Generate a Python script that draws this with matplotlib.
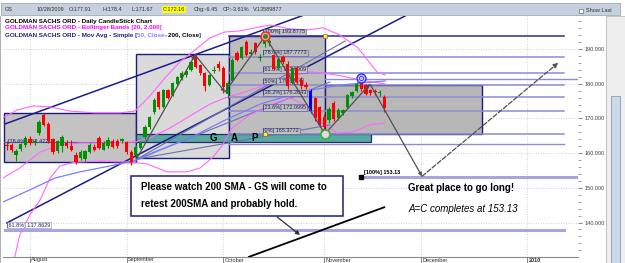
import numpy as np
import matplotlib.pyplot as plt
from matplotlib.patches import Rectangle
from matplotlib.ticker import MultipleLocator
from matplotlib.transforms import offset_copy

plt.rcParams['font.family'] = ['Liberation Sans', 'DejaVu Sans']

W, H = 625, 263

# x = trading-day index, 0 = Mon 3 Aug 2009 (future days counted as weekdays)
day0 = -5
opens = [162.2, 162.3, 159.5, 161.2, 162.2, 164.2, 162.8, 165.8, 171.0, 168.5,
         164.0, 160.6, 162.0, 163.0, 162.0, 159.5, 158.6, 158.3, 160.3, 161.8,
         164.3, 161.0, 162.0, 163.5, 163.6, 163.4, 163.2, 160.3, 159.4, 161.6,
         164.6, 167.5, 171.8, 177.6, 173.4, 178.2, 176.8, 179.8, 181.6, 182.4,
         184.0, 188.0, 185.4, 183.0, 179.6, 183.6, 185.6, 184.6, 177.0, 180.8,
         188.8, 187.4, 192.0, 188.6, 191.6, 187.4, 191.4, 191.6, 188.2, 184.6,
         187.6, 185.8, 180.2, 184.4, 181.2, 179.6, 177.91, 175.8, 173.2, 170.4,
         169.4, 174.4, 170.0, 171.6, 173.4, 176.4, 178.0, 180.4, 179.6, 178.2,
         177.8, 177.2, 176.2]
highs = [163.4, 162.8, 161.2, 163.0, 164.9, 164.8, 164.0, 169.6, 171.6, 169.0,
         164.4, 163.8, 165.2, 163.8, 163.8, 160.2, 160.8, 161.0, 162.8, 162.6,
         164.8, 163.4, 164.6, 164.0, 164.2, 164.4, 163.6, 160.8, 162.4, 163.6,
         168.0, 170.8, 175.8, 178.0, 178.6, 178.6, 180.6, 182.2, 183.6, 184.0,
         186.6, 188.6, 185.8, 183.4, 182.8, 185.2, 186.4, 185.0, 180.8, 187.3,
         189.4, 191.0, 192.6, 190.0, 192.0, 188.6, 193.9, 192.8, 188.6, 187.6,
         188.2, 186.4, 184.8, 185.0, 181.8, 180.4, 178.4, 176.2, 173.6, 171.2,
         173.4, 175.0, 173.0, 172.8, 177.0, 178.0, 180.4, 181.6, 180.0, 178.6,
         178.4, 178.2, 176.6]
lows = [161.0, 160.2, 157.6, 160.6, 161.8, 162.2, 162.3, 165.3, 167.8, 162.8,
        159.8, 160.0, 160.2, 161.4, 160.6, 156.8, 158.0, 157.8, 160.0, 160.6,
        161.2, 160.8, 161.6, 161.5, 161.6, 163.0, 159.8, 156.6, 158.8, 161.2,
        164.2, 167.0, 171.4, 172.8, 173.0, 175.6, 176.4, 179.4, 181.2, 182.0,
        183.6, 184.4, 182.6, 177.8, 179.2, 183.2, 183.6, 177.4, 175.8, 180.4,
        186.4, 187.0, 188.0, 188.2, 188.6, 186.4, 190.6, 190.8, 183.8, 184.2,
        185.8, 178.6, 179.8, 179.8, 178.6, 178.4, 171.67, 169.2, 167.4, 165.4,
        168.8, 169.2, 169.4, 171.0, 173.0, 176.0, 177.6, 178.0, 176.6, 176.8,
        176.6, 176.4, 171.8]
closes = [161.9, 160.8, 160.6, 162.6, 164.4, 162.8, 163.6, 168.9, 168.2, 163.4,
          160.4, 163.4, 164.6, 161.9, 161.0, 157.5, 160.4, 160.6, 162.4, 160.9,
          161.6, 162.9, 163.8, 161.8, 162.0, 164.0, 160.3, 157.4, 161.8, 163.2,
          167.5, 170.4, 175.3, 173.3, 178.2, 176.0, 180.2, 181.8, 183.2, 183.6,
          186.2, 184.8, 183.0, 179.4, 182.5, 184.0, 184.4, 179.0, 180.2, 186.8,
          186.8, 190.6, 188.3, 189.2, 189.2, 187.8, 192.6, 192.2, 184.2, 187.2,
          186.2, 179.4, 184.4, 180.4, 179.2, 178.9, 172.16, 170.0, 168.0, 167.6,
          172.6, 169.8, 172.4, 172.4, 176.6, 177.6, 179.8, 178.6, 177.0, 177.4,
          177.5, 177.6, 173.0]
hover_day = 61  # 10/28/2009, the bar shown in the header

month_ticks = [0, 21, 42, 64, 85, 108]
month_labels = ['August', 'September', 'October', 'November', 'December', '2010']
price_ticks = [140, 150, 160, 170, 180, 190]

# Bollinger bands (20, 2) and moving averages
bb_up_x = [-5.9, -2.8, 0.7, 4.4, 8.7, 14.1, 19.6, 22.8, 26.1, 29.3, 32.6, 35.9,
           39.1, 42.4, 45.7, 48.9, 52.2, 56.5, 60.4, 63.7, 67.4, 71.3, 75.4, 77.2]
bb_up_y = [170.1, 172.4, 173.6, 173.3, 172.1, 171.6, 171.6, 172.1, 176.5, 181.6,
           186.3, 189.7, 193.2, 194.9, 195.2, 196.1, 196.9, 195.8, 195.5, 196.1,
           194.0, 190.3, 183.4, 182.5]
bb_mid_x = [-5.9, -2.2, 2.2, 6.5, 10.9, 17.4, 22.8, 26.1, 30.4, 34.8, 39.1, 42.4,
            46.7, 51.1, 56.5, 60.9, 66.7, 71.7, 77.2]
bb_mid_y = [152.8, 155.7, 160.3, 162.3, 162.9, 162.9, 163.2, 164.4, 167.2, 170.7,
            174.1, 175.9, 177.6, 179.6, 182.2, 183.4, 182.5, 181.1, 179.9]
bb_low_x = [-3.3, -2.2, 0.0, 2.2, 4.4, 6.5, 9.8, 15.2, 21.7, 25.4, 29.8, 34.1,
            37.0, 39.8, 41.7, 43.9, 47.8, 52.2, 56.5, 59.8, 63.0, 66.7, 70.2, 73.9, 77.2]
bb_low_y = [130.1, 136.4, 142.2, 146.5, 152.8, 156.3, 157.4, 157.7, 157.4, 156.9,
            154.6, 154.6, 155.7, 158.9, 162.0, 167.2, 171.0, 173.9, 175.9, 173.9,
            169.0, 165.8, 166.1, 168.1, 168.7]
sma50_x = [-5.9, 0.0, 5.4, 10.9, 17.4, 23.3, 28.3, 34.8, 42.4, 50.0, 58.7, 67.4, 77.2]
sma50_y = [145.9, 149.4, 152.8, 154.6, 156.3, 158.0, 160.9, 164.4, 169.5, 174.1,
           177.6, 179.6, 180.8]
sma200_x = [47.6, 55.0, 62.0, 70.0, 77.0]
sma200_y = [130.1, 133.7, 137.1, 141.0, 144.4]

# Fibonacci retracement of the Oct swing
fib_names = ['100%', '78.6%', '61.8%', '50%', '38.2%', '23.6%', '0%']
fib_levels = [193.8775, 187.7773, 182.9909, 179.6274, 176.2643, 172.0995, 165.3772]

# drawn boxes: (left day, right day, low, high)
box_left = [-5.6, 23.0, 43.3, 64.1]
box_right = [23.0, 43.3, 64.1, 98.3]
box_low = [157.4, 158.6, 165.5, 165.5]
box_high = [171.6, 188.6, 193.75, 179.6]
box_fill = ['#c3c3c3', '#dadada', '#bdbdbd', '#b7b7b7']

# ABCD swing path and projection
swing_x = [23.3, 35.9, 42.4, 51.1, 64.1, 73.9, 85.2]
swing_y = [158.6, 188.3, 177.6, 193.7, 165.5, 179.9, 153.3]
target_x, target_y = 114.8, 186.0

fig = plt.figure(figsize=(W / 100, H / 100), dpi=100, facecolor='white')
ax = fig.add_axes([3 / W, 6 / H, 575 / W, 241 / H])
ax.set_xlim(-5.85, 119.1)
ax.set_ylim(130.06, 199.5)
ax.set_facecolor('white')

for t in month_ticks:
    ax.axvline(t, color='#c4c4c4', ls=(0, (1, 2)), lw=0.6, zorder=0)
for p in price_ticks:
    ax.axhline(p, color='#c4c4c4', ls=(0, (1, 2)), lw=0.6, zorder=0)

# boxes
for x0, x1, y0, y1, fc in zip(box_left, box_right, box_low, box_high, box_fill):
    ax.add_patch(Rectangle((x0, y0), x1 - x0, y1 - y0, fc=fc, ec='#1c1c7c',
                           lw=1.0, zorder=1))
# gap bar
ax.add_patch(Rectangle((23.0, 163.3), 74.1 - 23.0, 165.5 - 163.3, fc='#56aa9f',
                       ec='#2a2a70', lw=0.9, zorder=1.5))
for gx, gl in zip([39.8, 44.3, 48.9], ['G', 'A', 'P']):
    ax.text(gx, 164.35, gl, fontsize=7, fontweight='bold', ha='center',
            va='center', zorder=6)

# fib retracement lines and labels
for name, lev in zip(fib_names, fib_levels):
    col = '#2c2c96' if name == '100%' else '#8c8cd2'
    ax.plot([43.3, 116.1], [lev, lev], color=col, lw=1.1, zorder=2)
    ax.text(50.7, lev + 0.35, f'[{name}] {lev:.4f}', fontsize=4, color='#20205a',
            va='bottom', zorder=3,
            bbox=dict(boxstyle='square,pad=0.12', fc='#c0c0c0', ec='#5050a0', lw=0.4))
ax.plot([43.3, 116.1], [162.6, 162.6], color='#8c8cd2', lw=1.0, zorder=2)
ax.plot([64.1, 119.1], [181.4, 181.4], color='#8c8cd2', lw=1.0, zorder=2)
ax.plot([-5.6, 23.0], [163.2, 163.2], color='#5a5ab0', lw=0.8, zorder=2)
ax.text(-4.8, 163.2, '[78.6%] 163.4221', fontsize=4, color='#20205a', va='center',
        zorder=3)

# projection levels
ax.plot([-5.4, 116.1], [137.8629, 137.8629], color='#a6a6dc', lw=2.2, zorder=2)
ax.text(-4.9, 138.5, '[61.8%] 137.8629', fontsize=4, color='#20205a', va='bottom',
        zorder=3, bbox=dict(boxstyle='square,pad=0.1', fc='white', ec='#8080c0', lw=0.4))
ax.plot([72.0, 119.1], [153.13, 153.13], color='#a6a6dc', lw=2.2, zorder=2)
ax.plot([72.0], [153.13], 's', ms=2.5, color='black', zorder=6)
ax.text(72.5, 153.7, '[100%] 153.13', fontsize=4, fontweight='bold', va='bottom',
        zorder=6)

# navy trend lines and fan
ax.plot([-5.4, 60.2], [168.4, 200.1], color='#1c1c8c', lw=1.1, zorder=2.5)
ax.plot([-5.0, 81.5], [139.9, 199.5], color='#1c1c8c', lw=1.1, zorder=2.5)
for fx, fy_ in [(68.5, 192.3), (65.2, 180.5), (65.2, 168.1)]:
    ax.plot([23.3, fx], [158.3, fy_], color='#6a74a8', lw=0.8, zorder=2.5)

# bands and averages
ax.plot(bb_up_x, bb_up_y, color='#ff66ff', lw=0.8, zorder=2.6)
ax.plot(bb_mid_x, bb_mid_y, color='#ff66ff', lw=0.8, zorder=2.6)
ax.plot(bb_low_x, bb_low_y, color='#ff66ff', lw=0.8, zorder=2.6)
ax.plot(sma50_x, sma50_y, color='#7c7cff', lw=0.9, zorder=2.6)
ax.plot(sma200_x, sma200_y, color='black', lw=1.3, zorder=2.6)

# candles
days = np.arange(day0, day0 + len(opens))
o, h, l, c = map(np.array, (opens, highs, lows, closes))
cols = np.where(c >= o, '#009000', '#ff0000').astype(object)
cols[days == hover_day] = '#0000ff'
ax.vlines(days, l, h, colors=list(cols), lw=0.8, zorder=4)
ax.bar(days, np.maximum(np.abs(c - o), 0.25), bottom=np.minimum(o, c), width=0.72,
       color=list(cols), zorder=4.5)

# ABCD swing arrows
for i in range(len(swing_x) - 1):
    ax.annotate('', xy=(swing_x[i + 1], swing_y[i + 1]), xytext=(swing_x[i], swing_y[i]),
                arrowprops=dict(arrowstyle='-|>', color='#505050', lw=0.9,
                                mutation_scale=5, shrinkA=0, shrinkB=0), zorder=5)
ax.annotate('', xy=(target_x, target_y), xytext=(swing_x[-1], swing_y[-1]),
            arrowprops=dict(arrowstyle='-|>', color='#505050', lw=0.9, ls='--',
                            mutation_scale=7, shrinkA=0, shrinkB=0), zorder=5)

# pivot markers
ax.plot(51.1, 193.7, 'o', ms=6.5, mfc='#ff9a9a', mec='#ff2020', mew=1.0, zorder=6)
ax.plot(51.1, 193.7, 'o', ms=2.5, color='#10a010', zorder=6.1)
ax.plot(64.1, 165.4, 'o', ms=6.5, mfc='#f8c8f8', mec='#20c020', mew=1.2, zorder=6)
ax.plot(72.0, 181.5, 'o', ms=6.5, mfc='#c8c8ff', mec='#3030ff', mew=1.0, zorder=6)
ax.plot(72.0, 181.5, 'o', ms=3.0, mfc='none', mec='#3030ff', mew=0.6, zorder=6.1)
for sx, sy in [(51.1, 165.5), (64.1, 193.75)]:
    ax.plot(sx, sy, 's', ms=2.2, mfc='#ffe060', mec='#806000', mew=0.4, zorder=6)

# callout
ax.add_patch(Rectangle((22.0, 141.9), 46.0, 11.5, fc='white', ec='#1c1c7c', lw=1.1,
                       zorder=6))
ax.text(24.2, 150.2, 'Please watch 200 SMA - GS will come to', fontsize=7,
        fontweight='bold', va='center', zorder=7)
ax.text(24.2, 145.3, 'retest 200SMA and probably hold.', fontsize=7,
        fontweight='bold', va='center', zorder=7)
ax.annotate('', xy=(58.7, 136.4), xytext=(53.7, 141.6),
            arrowprops=dict(arrowstyle='-|>', color='#303030', lw=0.9,
                            mutation_scale=6, shrinkA=0, shrinkB=0), zorder=6)
ax.text(82.2, 150.0, 'Great place to go long!', fontsize=7, fontweight='bold',
        va='center', zorder=7)
ax.text(82.2, 143.9, 'A=C completes at 153.13', fontsize=7, fontstyle='italic',
        va='center', zorder=7)

# axes styling
for side in ['left', 'top', 'right']:
    ax.spines[side].set_visible(False)
ax.spines['bottom'].set_color('#8a8a8a')
ax.spines['bottom'].set_linewidth(0.8)
ax.yaxis.tick_right()
ax.set_yticks(price_ticks)
ax.set_yticklabels([f'{p:.3f}' for p in price_ticks])
ax.yaxis.set_minor_locator(MultipleLocator(2))
ax.tick_params(axis='y', which='major', length=3, width=0.6, color='#707070',
               labelsize=4, labelcolor='#404040', pad=2)
ax.tick_params(axis='y', which='minor', length=2, width=0.6, color='#909090')
ax.set_xticks(month_ticks)
ax.tick_params(axis='x', length=5, width=0.6, color='#707070', labelbottom=False)
month_tr = offset_copy(ax.get_xaxis_transform(), fig=fig, x=1.5, y=-0.5, units='dots')
for t, lab in zip(month_ticks, month_labels):
    ax.text(t, 0, lab, transform=month_tr, fontsize=4, color='#303030', ha='left',
            va='top', clip_on=False,
            fontweight='bold' if lab == '2010' else 'normal')


def fy(py):
    return 1 - py / H


# header bar
fig.add_artist(Rectangle((0.5 / W, fy(15)), 619 / W, 12 / H, transform=fig.transFigure,
                         fc='#c7d1dd', ec='#9eacbc', lw=0.6))
head_x = [5, 37, 69, 102, 131, 163, 194, 223, 253]
head_txt = ['GS', '10/28/2009', 'O:177.91', 'H:178.4', 'L:171.67', 'C:172.16',
            'Chg:-6.45', 'CP:-3.61%', 'V:13589877']
for hx, ht in zip(head_x, head_txt):
    kw = {}
    if ht.startswith('C:'):
        kw['bbox'] = dict(boxstyle='square,pad=0.15', fc='#ffff00', ec='none')
    fig.text(hx / W, fy(9.5), ht, fontsize=4, color='#303030', va='center', **kw)
fig.add_artist(Rectangle((579 / W, fy(13)), 4 / W, 4 / H, transform=fig.transFigure,
                         fc='white', ec='#707070', lw=0.5))
fig.text(586 / W, fy(11), 'Show Last', fontsize=4, color='#303030', va='center')

# right strip with scroll bar
fig.add_artist(Rectangle((606 / W, 0), 19 / W, fy(16), transform=fig.transFigure,
                         fc='#eeeeee', ec='#b8b8b8', lw=0.6))
fig.add_artist(Rectangle((611 / W, 0), 9 / W, fy(96), transform=fig.transFigure,
                         fc='#cdd8e8', ec='#8c9cb4', lw=0.6))
fig.add_artist(Rectangle((0, 0), 1.5 / W, fy(16), transform=fig.transFigure,
                         fc='#b0b0b0', ec='none'))

# study legend
fig.text(5 / W, fy(21), 'GOLDMAN SACHS ORD - Daily CandleStick Chart', fontsize=4.5,
         fontweight='bold', color='black', va='center')
fig.text(5 / W, fy(28), 'GOLDMAN SACHS ORD - Bollinger Bands [20, 2.000]', fontsize=4.5,
         fontweight='bold', color='#ff00ff', va='center')
renderer = fig.canvas.get_renderer()
cur = 5 / W
for piece, col in [('GOLDMAN SACHS ORD - Mov Avg - Simple [', '#202080'),
                   ('50, Close', '#8080ff'), (', ', '#202080'),
                   ('200, Close', 'black'), (']', '#202080')]:
    t = fig.text(cur, fy(35), piece, fontsize=4.5, fontweight='bold', color=col,
                 va='center')
    cur += t.get_window_extent(renderer=renderer).width / W

fig.savefig('out.png', dpi=100, facecolor='white')
